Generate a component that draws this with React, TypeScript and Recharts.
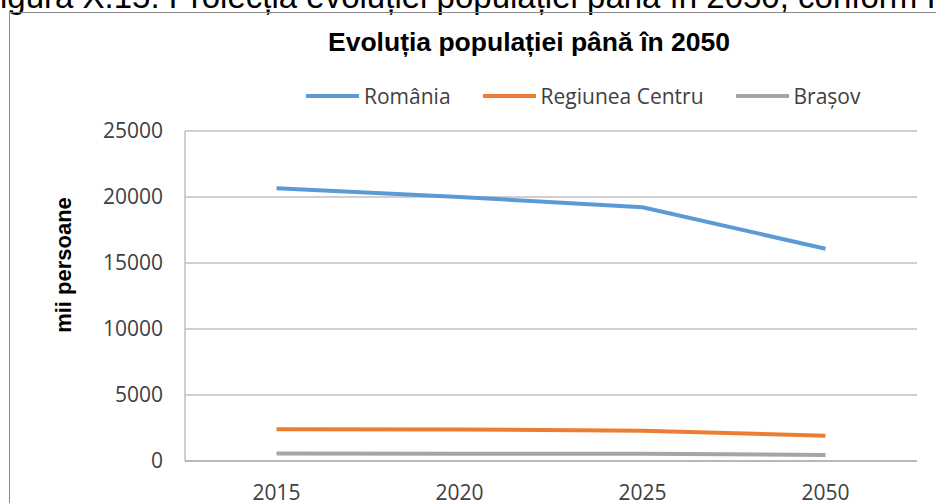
import { LineChart, Line, XAxis, YAxis, CartesianGrid } from "recharts";

const years = ["2015", "2020", "2025", "2050"];
const romania = [20660, 20000, 19220, 16080];
const regiuneaCentru = [2400, 2390, 2300, 1920];
const brasov = [560, 550, 540, 460];
const yTicks = [0, 5000, 10000, 15000, 20000, 25000];

const seriesInfo = [
  { key: "romania", name: "România", color: "#5B9BD5" },
  { key: "centru", name: "Regiunea Centru", color: "#ED7D31" },
  { key: "brasov", name: "Brașov", color: "#A5A5A5" },
];

const data = years.map((year, i) => ({
  year,
  romania: romania[i],
  centru: regiuneaCentru[i],
  brasov: brasov[i],
}));

const TICK_FONT = "'Open Sans', sans-serif";
const ARIAL = "'Liberation Sans', Arial, sans-serif";

function LegendRow() {
  return (
    <div
      style={{
        position: "absolute",
        top: 82,
        left: 306,
        display: "flex",
        alignItems: "center",
        whiteSpace: "nowrap",
        fontFamily: TICK_FONT,
        fontSize: 21,
        color: "#404040",
      }}
    >
      {seriesInfo.map((s) => (
        <div key={s.key} style={{ display: "flex", alignItems: "center", marginRight: 32 }}>
          <span style={{ display: "inline-block", width: 53, height: 4, background: s.color, marginRight: 5 }} />
          <span>{s.name}</span>
        </div>
      ))}
    </div>
  );
}

function AxisTitle(props: { viewBox?: { x: number; y: number; width: number; height: number } }) {
  const vb = props.viewBox;
  if (!vb) return null;
  const x = vb.x + 71;
  const y = vb.y + vb.height / 2 - 31;
  return (
    <text
      x={x}
      y={y}
      transform={`rotate(-90 ${x} ${y})`}
      textAnchor="middle"
      fontFamily={ARIAL}
      fontWeight="bold"
      fontSize={22}
      fill="#000"
    >
      mii persoane
    </text>
  );
}

export default function App() {
  return (
    <div style={{ position: "absolute", left: 0, top: 0, width: 936, height: 503, overflow: "hidden", background: "#fff" }}>
      {/* caption of the figure, cropped by the top edge in the source */}
      <div
        style={{
          position: "absolute",
          left: 0,
          top: -20,
          whiteSpace: "nowrap",
          fontFamily: ARIAL,
          fontSize: 33,
          lineHeight: "33px",
          color: "#000",
        }}
      >
        igura  X.15. Proiecția evoluției populației până în 2050, conform INS
      </div>
      <div
        style={{
          position: "absolute",
          left: 9,
          top: 12,
          width: 1000,
          height: 600,
          border: "1px solid #8a8a8a",
        }}
      />
      <div
        style={{
          position: "absolute",
          left: 0,
          top: 27,
          width: 1058,
          textAlign: "center",
          fontFamily: ARIAL,
          fontWeight: "bold",
          fontSize: 26.5,
          color: "#000",
        }}
      >
        Evoluția populației până în 2050
      </div>
      <LegendRow />
      <LineChart
        width={936}
        height={503}
        data={data}
        margin={{ top: 131, right: 19, bottom: 0, left: 0 }}
        style={{ position: "absolute", left: 0, top: 0 }}
      >
        <CartesianGrid vertical={false} stroke="#a0a0a0" strokeWidth={1.2} />
        <XAxis
          dataKey="year"
          height={42}
          padding={{ left: 91.5, right: 91.5 }}
          axisLine={{ stroke: "#a0a0a0" }}
          tickLine={false}
          tickMargin={18}
          tick={{ fill: "#404040", fontSize: 21, fontFamily: TICK_FONT }}
        />
        <YAxis
          width={185}
          domain={[0, 25000]}
          ticks={yTicks}
          axisLine={{ stroke: "#a0a0a0" }}
          tickLine={false}
          tickMargin={16}
          tick={{ fill: "#404040", fontSize: 21, fontFamily: TICK_FONT }}
          label={<AxisTitle />}
        />
        {seriesInfo.map((s) => (
          <Line
            key={s.key}
            type="linear"
            dataKey={s.key}
            name={s.name}
            stroke={s.color}
            strokeWidth={4}
            dot={false}
            isAnimationActive={false}
          />
        ))}
      </LineChart>
    </div>
  );
}
